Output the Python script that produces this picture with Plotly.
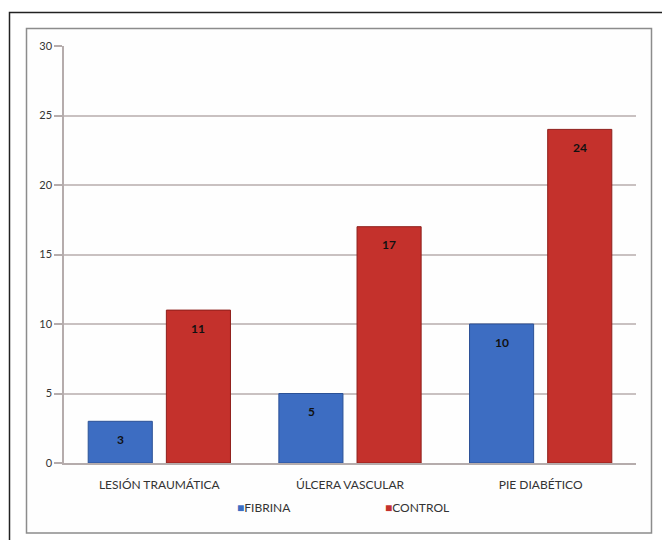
import plotly.graph_objects as go

categories = ["LESIÓN TRAUMÁTICA", "ÚLCERA VASCULAR", "PIE DIABÉTICO"]
fibrina = [3, 5, 10]
control = [11, 17, 24]
y_ticks = [0, 5, 10, 15, 20, 25, 30]

BLUE = "#3d6dc2"
RED = "#c4312c"
W, H = 662, 540
FONT = "Lato, 'Open Sans', sans-serif"


def px_x(v):
    return v / W


def px_y(v):
    return 1 - v / H


fig = go.Figure()
fig.add_trace(go.Bar(name="FIBRINA", x=categories, y=fibrina,
                     marker=dict(color=BLUE, line=dict(color="#2b5196", width=1))))
fig.add_trace(go.Bar(name="CONTROL", x=categories, y=control,
                     marker=dict(color=RED, line=dict(color="#8e1f1b", width=1))))

# value labels just below the top of each bar
annotations = []
for vals, shift in ((fibrina, -39), (control, 39)):
    for cat, v in zip(categories, vals):
        annotations.append(dict(x=cat, y=v, xref="x", yref="y", text=f"<b>{v}</b>",
                                showarrow=False, xshift=shift, yshift=-18, yanchor="middle",
                                font=dict(family=FONT, size=12, color="#111111")))

# legend row
annotations += [
    dict(xref="paper", yref="paper", x=px_x(235), y=px_y(507), xanchor="left", yanchor="middle",
         showarrow=False, text=f"<span style='color:{BLUE}'>■</span>FIBRINA",
         font=dict(family=FONT, size=12, color="#333333")),
    dict(xref="paper", yref="paper", x=px_x(383), y=px_y(507), xanchor="left", yanchor="middle",
         showarrow=False, text=f"<span style='color:{RED}'>■</span>CONTROL",
         font=dict(family=FONT, size=12, color="#333333")),
]

shapes = [
    # outer frame
    dict(type="rect", xref="paper", yref="paper",
         x0=px_x(9.5), x1=px_x(700), y0=px_y(640), y1=px_y(12.5),
         line=dict(color="#222222", width=1.5), layer="below"),
    # chart area border
    dict(type="rect", xref="paper", yref="paper",
         x0=px_x(26.5), x1=px_x(651.5), y0=px_y(533), y1=px_y(28.5),
         line=dict(color="#8c8c8c", width=1.5), fillcolor="#fefefe", layer="below"),
]

fig.update_layout(
    template="none",
    width=W, height=H,
    margin=dict(l=0, r=0, t=0, b=0, autoexpand=False),
    paper_bgcolor="white", plot_bgcolor="white",
    barmode="group", bargap=0.18, bargroupgap=0.18,
    font=dict(family=FONT, size=12, color="#333333"),
    shapes=shapes, annotations=annotations,
    showlegend=False,
    xaxis=dict(domain=[px_x(64), px_x(636)], showline=True, linecolor="#b5acac", linewidth=1.5,
               ticks="", ticklabelstandoff=10, automargin=False,
               tickfont=dict(family=FONT, size=12, color="#333333"), showgrid=False),
    yaxis=dict(domain=[px_y(463), px_y(46)], range=[0, 30], tickvals=y_ticks,
               showline=True, linecolor="#b5acac", linewidth=1.5, automargin=False,
               ticks="outside", ticklen=8, tickcolor="#b5acac", tickwidth=1.5,
               showgrid=True, gridcolor="#c9c1c1", gridwidth=1.5, zeroline=False,
               tickfont=dict(family=FONT, size=11, color="#333333")),
)

fig.write_html("out.html")
